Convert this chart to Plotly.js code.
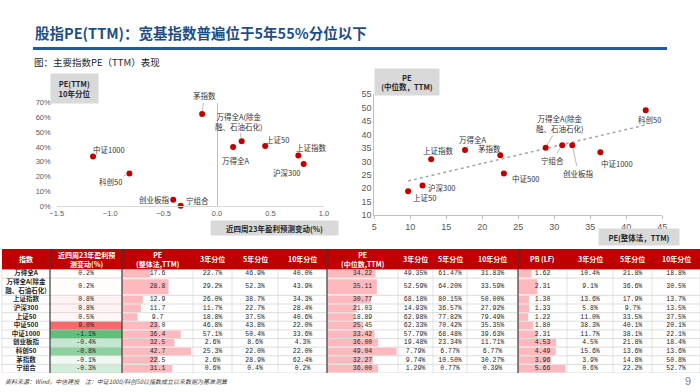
<!DOCTYPE html>
<html><head><meta charset="utf-8">
<script src="https://cdn.plot.ly/plotly-3.0.1.min.js"></script>
<style>html,body{margin:0;padding:0;background:#fff;}#chart{width:700px;height:392px;}</style>
</head><body><div id="chart"></div>
<script>
// ---------------- DATA ----------------
const indexNames = ['万得全A','万得全A(除金融、石油石化)','上证指数','沪深300','上证50','中证500','中证1000','创业板指','科创50','茅指数','宁组合'];
const indexLabels = ['万得全A','万得全A(除金<br>融、石油石化)','上证指数','沪深300','上证50','中证500','中证1000','创业板指','科创50','茅指数','宁组合'];
const epsChange   = [0.2,0.2,0.8,0.8,0.5,9.0,-1.1,-0.4,-0.8,-0.1,-0.3];
const peWhole     = [17.6,28.8,12.9,11.7,9.7,23.0,36.4,32.5,42.7,22.5,31.1];
const peWhole3y   = [22.7,29.2,26.0,11.7,18.8,46.8,57.1,2.6,25.3,2.6,0.6];
const peWhole5y   = [46.9,52.3,38.7,22.7,37.5,43.8,50.4,8.6,22.0,28.9,0.4];
const peWhole10y  = [40.0,43.9,34.3,28.4,40.6,22.0,33.6,4.3,22.0,62.4,0.2];
const peMedian    = [34.22,35.11,30.77,21.03,18.89,25.45,33.42,36.00,49.04,32.27,36.00];
const peMedian3y  = [49.35,52.59,68.18,14.93,62.98,62.33,57.79,19.48,7.79,9.74,1.29];
const peMedian5y  = [61.47,64.20,80.15,36.57,77.82,70.42,68.48,23.34,6.77,10.50,0.77];
const peMedian10y = [31.83,33.59,50.00,27.92,79.49,35.35,39.63,11.71,6.77,30.27,0.39];
const pbLF        = [1.62,2.31,1.30,1.33,1.22,1.80,2.31,4.53,4.49,3.96,5.66];
const pb3y        = [10.4,9.1,13.6,5.8,11.0,38.3,11.7,4.5,15.6,3.9,0.6];
const pb5y        = [21.8,36.6,17.9,9.7,33.5,40.1,38.1,21.8,13.6,14.8,22.2];
const pb10y       = [18.8,30.5,13.7,13.5,37.5,20.1,22.1,18.4,13.6,50.8,52.7];

// left scatter (excludes 中证500), x
const leftNames   = ['中证1000','科创50','创业板指','宁组合','茅指数','万得全A(除金融、石油石化)','万得全A','上证50','上证指数','沪深300'];
const leftLabels  = ['中证1000','科创50','创业板指','宁组合','茅指数','万得全A(除金<br>融、石油石化)','万得全A','上证50','上证指数','沪深300'];
const leftChange  = [-1.16,-0.82,-0.41,-0.34,-0.14,0.23,0.15,0.45,0.76,0.81];
const leftPct10y  = [33.6,22.0,4.3,0.2,62.4,43.9,40.0,40.6,34.3,28.4];

const headerLabels = ['指数','近四周23年盈利预<br>测变动(%)','PE<br>(整体法,TTM)','3年分位','5年分位','10年分位','PE<br>(中位数,TTM)','3年分位','5年分位','10年分位','PB (LF)','3年分位','5年分位','10年分位'];

// ---------------- LAYOUT CONSTANTS ----------------
const W = 700, H = 392;
const px = v => v / W, py = v => 1 - v / H;
const L = {x0:56.7, x1:324, yb:206, yt:102.7};
const R = {x0:374.3, x1:662.3, yb:215, yt:94.3};
const T = {head:249, body:269.5, bottom:373};
const colEdges = [2,50,122,193,232,278,327,398,433,467,518,567,613,652,700];
const thickEdges = [50,122,327,518];
const rowUnits = [1,2,1,1,1,1,1,1,1,1,1];
const bounds = [0]; rowUnits.forEach((u,i)=>bounds.push(bounds[i]+u));
const nUnits = bounds[bounds.length-1];
const rowCenters = rowUnits.map((u,i)=>(bounds[i]+bounds[i+1])/2);
const colCenter = i => (colEdges[i]+colEdges[i+1])/2;

const RED = '#C00000';
const labelFont = {family:'Noto Sans CJK SC', size:7.5, color:'#333333'};
const tickFont = {family:'Liberation Sans', size:7.5, color:'#595959'};
const tickFontR = {family:'Liberation Sans', size:9, color:'#595959'};
const numFont = {family:'Liberation Mono', size:6.5, color:'#262626'};

const traces = [];
// left scatter
traces.push({type:'scatter', mode:'markers', x:leftChange, y:leftPct10y, xaxis:'x', yaxis:'y',
  marker:{color:RED, size:6}, cliponaxis:false, hoverinfo:'skip'});

// right trendline (least squares of data)
const mx = peWhole.reduce((a,b)=>a+b,0)/peWhole.length;
const my = peMedian.reduce((a,b)=>a+b,0)/peMedian.length;
let sxy=0, sxx=0; peWhole.forEach((x,i)=>{sxy+=(x-mx)*(peMedian[i]-my); sxx+=(x-mx)*(x-mx);});
const slope = sxy/sxx, icpt = my - slope*mx;
const tx = [Math.min(...peWhole), Math.max(...peWhole)];
traces.push({type:'scatter', mode:'lines', x:tx, y:tx.map(x=>icpt+slope*x), xaxis:'x2', yaxis:'y2',
  line:{color:'#a6a6a6', width:1.5, dash:'dot'}, hoverinfo:'skip'});
traces.push({type:'scatter', mode:'markers', x:peWhole, y:peMedian, xaxis:'x2', yaxis:'y2',
  marker:{color:RED, size:6}, cliponaxis:false, hoverinfo:'skip'});

// data bars
const barColor = '#FDB9BE';
const barW = rowUnits.map(u=>u*0.86);
traces.push({type:'bar', orientation:'h', x:peWhole, y:rowCenters, width:barW, xaxis:'x4', yaxis:'y3', marker:{color:barColor}, hoverinfo:'skip'});
traces.push({type:'bar', orientation:'h', x:peMedian, y:rowCenters, width:barW, xaxis:'x5', yaxis:'y3', marker:{color:barColor}, hoverinfo:'skip'});
traces.push({type:'bar', orientation:'h', x:pbLF, y:rowCenters, width:barW, xaxis:'x6', yaxis:'y3', marker:{color:barColor}, hoverinfo:'skip'});

// heatmap colored column
const zmin = Math.min(...epsChange), zmax = Math.max(...epsChange);
const mid = -zmin/(zmax-zmin);
traces.push({type:'heatmap', z:epsChange.map(v=>[v]), x:[colEdges[1], colEdges[2]], y:bounds,
  xaxis:'x7', yaxis:'y3', zmin:zmin, zmax:zmax, showscale:false, hoverinfo:'skip',
  colorscale:[[0,'#63BE7B'],[mid,'#FFFFFF'],[1,'#F8696B']]});

// table text
const f1 = v=>v.toFixed(1), f2 = v=>v.toFixed(2), p1 = v=>v.toFixed(1)+'%', p2 = v=>v.toFixed(2)+'%';
const cols = [
  [epsChange,p1],[peWhole,f1],[peWhole3y,p1],[peWhole5y,p1],[peWhole10y,p1],
  [peMedian,f2],[peMedian3y,p2],[peMedian5y,p2],[peMedian10y,p2],
  [pbLF,f2],[pb3y,p1],[pb5y,p1],[pb10y,p1]
];
traces.push({type:'scatter', mode:'text', x:indexLabels.map(()=>colCenter(0)), y:rowCenters, text:indexLabels,
  xaxis:'x7', yaxis:'y3', textfont:{family:'Noto Sans CJK SC', size:6.5, color:'#262626', weight:'bold'},
  cliponaxis:false, hoverinfo:'skip'});
cols.forEach((c,k)=>{
  traces.push({type:'scatter', mode:'text', x:c[0].map(()=>colCenter(k+1)), y:rowCenters, text:c[0].map(c[1]),
    xaxis:'x7', yaxis:'y3', textfont:numFont, cliponaxis:false, hoverinfo:'skip'});
});

// ---------------- ANNOTATIONS ----------------
const ann = [];
ann.push({xref:'paper', yref:'paper', x:px(33), y:py(33), xanchor:'left', yanchor:'middle', showarrow:false,
  text:'<b>股指PE(TTM)：宽基指数普遍位于5年55%分位以下</b>', font:{family:'Noto Sans CJK SC', size:14.5, color:'#1F4E85'}});
ann.push({xref:'paper', yref:'paper', x:px(32), y:py(62), xanchor:'left', yanchor:'middle', showarrow:false,
  text:'图：主要指数PE（TTM）表现', font:{family:'Noto Sans CJK SC', size:9.5, color:'#262626'}});

const boxFont = {family:'Noto Sans CJK SC', size:7.5, color:'#262626'};
const box = (cx,cy,w,h,t)=>({xref:'paper', yref:'paper', x:px(cx), y:py(cy), xanchor:'center', yanchor:'middle',
  showarrow:false, width:w, height:h, bgcolor:'#D9D9D9', text:'<b>'+t+'</b>', font:boxFont});
ann.push(box(74.2, 88.4, 45, 27, 'PE(TTM)<br>10年分位'));
ann.push(box(274, 227.5, 125, 12, '近四周23年盈利预测变动(%)'));
ann.push(box(406.5, 82, 62, 24, 'PE<br>(中位数，TTM)'));
ann.push(box(639, 237, 78, 14, 'PE(整体法，TTM)'));

const leftPos = {
 '中证1000':{dx:16,dy:-7}, '科创50':{dx:-19,dy:8,line:true}, '创业板指':{dx:-19,dy:0}, '宁组合':{dx:17,dy:-5},
 '茅指数':{dx:2,dy:-18,line:true}, '万得全A(除金融、石油石化)':{dx:-3,dy:-20,line:true}, '万得全A':{dx:3,dy:14},
 '上证50':{dx:12,dy:-7}, '上证指数':{dx:13,dy:-8}, '沪深300':{dx:-17,dy:8}
};
const rightPos = {
 '上证50':{dx:16,dy:6}, '沪深300':{dx:19,dy:2}, '上证指数':{dx:7,dy:-9}, '万得全A':{dx:8,dy:-11,line:true},
 '茅指数':{dx:-11,dy:-7}, '中证500':{dx:22,dy:5}, '万得全A(除金融、石油石化)':{dx:14,dy:-24,line:true},
 '宁组合':{dx:-10,dy:15,line:true}, '创业板指':{dx:6,dy:28,line:true}, '中证1000':{dx:17,dy:11}, '科创50':{dx:4,dy:9}
};
function pointLabel(x,y,xr,yr,text,p){
  if(p.line){
    return {x:x, y:y, xref:xr, yref:yr, text:text, showarrow:true, ax:p.dx, ay:p.dy, arrowhead:0,
      arrowwidth:0.6, arrowcolor:'#8c8c8c', standoff:3, font:labelFont};
  }
  return {x:x, y:y, xref:xr, yref:yr, text:text, showarrow:false, xshift:p.dx, yshift:-p.dy,
    xanchor:'center', yanchor:'middle', font:labelFont};
}
leftNames.forEach((n,i)=>ann.push(pointLabel(leftChange[i], leftPct10y[i], 'x','y', leftLabels[i], leftPos[n])));
indexNames.forEach((n,i)=>ann.push(pointLabel(peWhole[i], peMedian[i], 'x2','y2', indexLabels[i], rightPos[n])));

// table headers
headerLabels.forEach((t,i)=>ann.push({xref:'paper', yref:'paper', x:px(colCenter(i)), y:py((T.head+T.body)/2),
  xanchor:'center', yanchor:'middle', showarrow:false, text:'<b>'+t+'</b>',
  font:{family:'Noto Sans CJK SC', size:7, color:'#FFFFFF'}}));

ann.push({xref:'paper', yref:'paper', x:px(3), y:py(381.5), xanchor:'left', yanchor:'middle', showarrow:false,
  text:'资料来源：Wind，中信建投\u00a0\u00a0\u00a0\u00a0注：中证1000/科创50以指数成立以来数据为基准测算',
  font:{family:'Noto Sans CJK SC', size:6, color:'#404040', style:'italic'}});
ann.push({xref:'paper', yref:'paper', x:px(688), y:py(381), xanchor:'center', yanchor:'middle', showarrow:false,
  text:'9', font:{family:'Liberation Sans', size:11, color:'#808080'}});

// ---------------- SHAPES ----------------
const shapes = [];
shapes.push({type:'line', xref:'paper', yref:'paper', x0:px(33), x1:px(667), y0:py(48.5), y1:py(48.5), line:{color:'#1F5C99', width:3}});
shapes.push({type:'rect', xref:'paper', yref:'paper', x0:px(colEdges[0]), x1:px(700), y0:py(T.head), y1:py(T.body), fillcolor:RED, line:{width:0}, layer:'below'});
bounds.forEach(b=>shapes.push({type:'line', xref:'paper', yref:'y3', x0:px(colEdges[0]), x1:px(700), y0:b, y1:b, line:{color:'#c8c8c8', width:0.6}}));
colEdges.forEach(e=>{
  const thick = thickEdges.includes(e);
  shapes.push({type:'line', xref:'paper', yref:'paper', x0:px(e), x1:px(e), y0:py(thick?T.head:T.body), y1:py(T.bottom),
    line:{color: thick?'#3a3a3a':'#d0d0d0', width: thick?1.2:0.6}});
});

// ---------------- AXES ----------------
const hid = {visible:false, fixedrange:true};
const layout = {
  width:W, height:H, margin:{l:0,r:0,t:0,b:0,pad:0}, autosize:false, showlegend:false,
  paper_bgcolor:'#FFFFFF', plot_bgcolor:'rgba(0,0,0,0)', barmode:'overlay',
  font:{family:'Noto Sans CJK SC'},
  xaxis:{domain:[px(L.x0),px(L.x1)], range:[-1.5,1.0], tickvals:[-1.5,-1,-0.5,0,0.5,1], tickformat:'.1f', ticksuffix:'%',
    showgrid:false, zeroline:true, zerolinecolor:'#bfbfbf', zerolinewidth:1, showline:true, linecolor:'#d9d9d9', linewidth:1,
    ticks:'', tickfont:tickFont, anchor:'y', fixedrange:true},
  yaxis:{domain:[py(L.yb),py(L.yt)], range:[0,70], dtick:10, ticksuffix:'%', showgrid:false, zeroline:false, showline:false,
    ticks:'', tickfont:tickFont, anchor:'x', ticklabelstandoff:5, fixedrange:true},
  xaxis2:{domain:[px(R.x0),px(R.x1)], range:[5,45], dtick:5, showgrid:false, zeroline:false, showline:true, linecolor:'#bfbfbf',
    ticks:'outside', ticklen:3, tickcolor:'#bfbfbf', tickfont:tickFontR, anchor:'y2', fixedrange:true},
  yaxis2:{domain:[py(R.yb),py(R.yt)], range:[10,55], dtick:5, showgrid:false, zeroline:false, showline:true, linecolor:'#bfbfbf',
    ticks:'', tickfont:tickFontR, anchor:'x2', fixedrange:true},
  yaxis3:Object.assign({domain:[py(T.bottom),py(T.body)], range:[nUnits,0], anchor:'x7'}, hid),
  xaxis4:Object.assign({domain:[px(colEdges[2]),px(colEdges[3])], range:[0,Math.max(...peWhole)*1.03], anchor:'y3'}, hid),
  xaxis5:Object.assign({domain:[px(colEdges[6]),px(colEdges[7])], range:[0,Math.max(...peMedian)*1.02], anchor:'y3'}, hid),
  xaxis6:Object.assign({domain:[px(colEdges[10]),px(colEdges[11])], range:[0,Math.max(...pbLF)*1.03], anchor:'y3'}, hid),
  xaxis7:Object.assign({domain:[0,1], range:[0,W], anchor:'y3'}, hid),
  annotations:ann, shapes:shapes
};
Plotly.newPlot('chart', traces, layout, {staticPlot:true, displayModeBar:false});
</script></body></html>
